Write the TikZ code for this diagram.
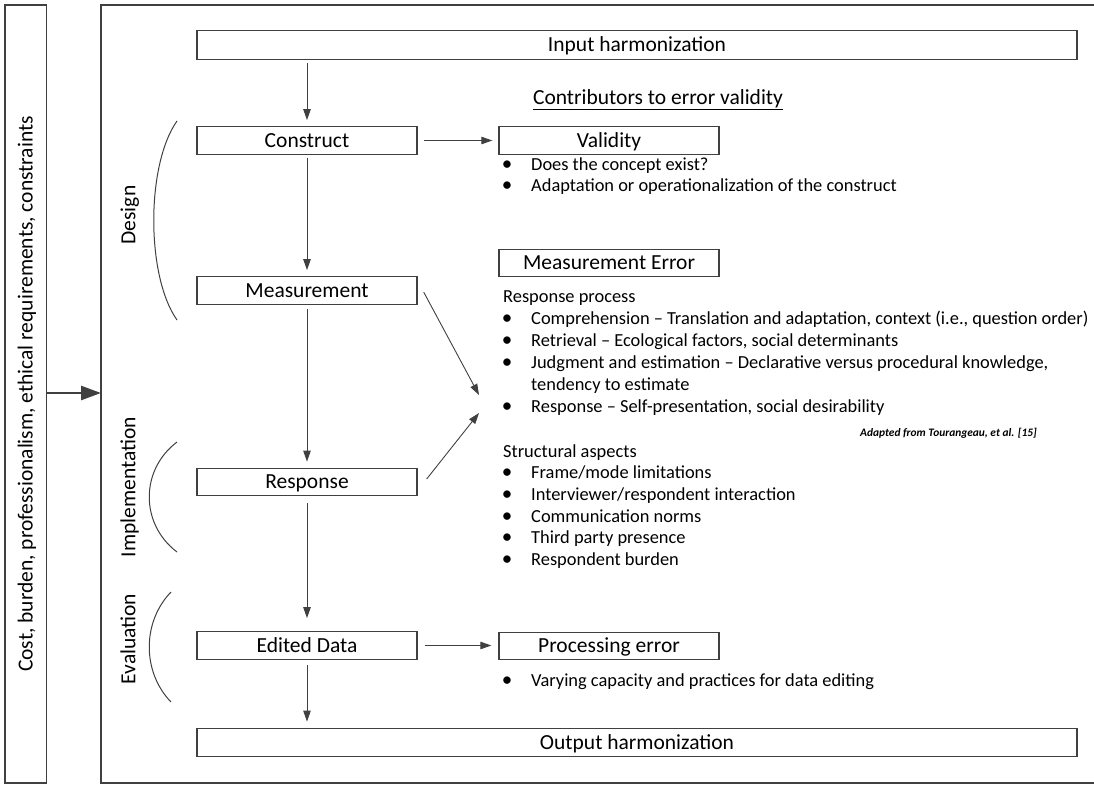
\documentclass[tikz,border=0pt]{standalone}
\usepackage{fontspec}
\setmainfont{Carlito}
\usetikzlibrary{arrows.meta,calc}
\definecolor{ln}{HTML}{404040}
\newcommand{\boxfont}{\fontsize{21.5}{25}\selectfont}
\newcommand{\bodyfont}{\fontsize{18.4}{21.5}\selectfont}
\tikzset{
  stage/.style={draw=ln, line width=1.3pt, minimum width=220pt, minimum height=27.5pt,
    inner sep=0pt, text height=13.8pt, text depth=0pt, font=\boxfont},
  wide/.style={stage, minimum width=880pt, minimum height=28.5pt},
  sidebar/.style={draw=ln, line width=1.3pt, minimum width=41.5pt, minimum height=778pt, inner sep=0pt},
  frame/.style={draw=ln, line width=1.3pt},
  flow/.style={draw=ln, line width=0.9pt, -{Triangle[length=11pt,width=7.5pt]}},
  feed/.style={draw=ln, line width=2.6pt, -{Triangle[length=20pt,width=14pt]}},
  phase/.style={rotate=90, inner sep=0pt, text height=13.8pt, text depth=0pt, font=\boxfont},
  bracket/.style={draw=ln, line width=1pt},
  line/.style={anchor=base west, inner sep=0pt, font=\bodyfont},
  bul/.style={anchor=base, inner sep=0pt, font=\fontsize{21}{21}\selectfont},
  heading/.style={anchor=base, inner sep=0pt, font=\boxfont},
  source/.style={anchor=base east, inner sep=0pt, font=\fontsize{11.4}{14}\selectfont\bfseries\itshape}
}
\begin{document}
\begin{tikzpicture}[x=1pt,y=-1pt]
\useasboundingbox (0,0) rectangle (1094,784);

% constraints bar on the left
\node[sidebar] (bar) at (25.75,394) {};
\node[phase] (barlabel) at (bar.center) {Cost, burden, professionalism, ethical requirements, constraints};

% outer frame (open to the right)
\draw[frame] (1094,5) -- (101,5) -- (101,783) -- (1094,783);
\coordinate (frameW) at (101,393);
\draw[feed] (bar.east |- frameW) -- (frameW);

% process chain
\node[wide]  (input)    at (637,45)    {Input harmonization};
\node[stage] (construct) at (307,140.5) {Construct};
\node[stage] (measure)  at (307,290.5) {Measurement};
\node[stage] (response) at (307,482)   {Response};
\node[stage] (edited)   at (307,645.5) {Edited Data};
\node[wide]  (output)   at (637,742.5) {Output harmonization};

\draw[flow, shorten <=3pt, shorten >=6pt] (input.south -| construct) -- (construct.north);
\draw[flow, shorten <=3pt, shorten >=6pt] (construct.south) -- (measure.north);
\draw[flow, shorten <=4pt, shorten >=6pt] (measure.south) -- (response.north);
\draw[flow, shorten <=7pt, shorten >=13pt] (response.south) -- (edited.north);
\draw[flow, shorten <=5pt, shorten >=6pt] (edited.south) -- (output.north -| edited);

% phase brackets
\draw[bracket] (177,121) .. controls (146,165) and (146,276) .. (177,320);
\draw[bracket] (177,442) .. controls (140,470) and (140,524) .. (177,552);
\draw[bracket] (171,592) .. controls (142,622) and (142,672) .. (171,702);
\node[phase] (design) at (128.5,215) {Design};
\node[phase] (impl)   at (128.5,487) {Implementation};
\node[phase] (eval)   at (128.5,639) {Evaluation};

% error sources
\node[heading] (contrib) at (658,104) {\underline{Contributors to error validity}};
\node[stage] (validity) at (609,140.5) {Validity};
\node[stage] (measerr)  at (609,263)   {Measurement Error};
\node[stage] (procerr)  at (609,646)   {Processing error};

\draw[flow, shorten <=6pt, shorten >=6pt] (construct.east) -- (validity.west);
\draw[flow, shorten <=7pt, shorten >=7pt] (edited.east) -- (edited.east -| procerr.west);

\coordinate (hubA) at (479,395);
\coordinate (hubB) at (479,413);
\draw[flow] ($(measure.east)+(6,1.5)$) -- (hubA);
\draw[flow] ($(response.east)+(9,-3)$) -- (hubB);

% validity notes
\foreach \y/\t [count=\i] in {170/{Does the concept exist?},
                             191/{Adaptation or operationalization of the construct}} {
  \node[bul]  (vb\i) at (507,\y) {•};
  \node[line] (vt\i) at (531,\y) {\t};
}

% measurement error notes
\node[line] (resp) at (503,302) {Response process};
\foreach \y/\t [count=\i] in {324.5/{Comprehension – Translation and adaptation, context (i.e., question order)},
                             346.5/{Retrieval – Ecological factors, social determinants},
                             368.5/{Judgment and estimation – Declarative versus procedural knowledge,},
                             412/{Response – Self-presentation, social desirability}} {
  \node[bul]  (rb\i) at (507,\y) {•};
  \node[line] (rt\i) at (531,\y) {\t};
}
\node[line] (rcont) at (531,390.5) {tendency to estimate};
\node[source] (cite) at (1037,436) {Adapted from Tourangeau, et al. [15]};

\node[line] (struct) at (503,457) {Structural aspects};
\foreach \y/\t [count=\i] in {478.7/{Frame/mode limitations},
                             500.4/{Interviewer/respondent interaction},
                             522.1/{Communication norms},
                             543.8/{Third party presence},
                             565.5/{Respondent burden}} {
  \node[bul]  (sb\i) at (507,\y) {•};
  \node[line] (st\i) at (531,\y) {\t};
}

% processing error notes
\node[bul]  (pb1) at (507,686) {•};
\node[line] (pt1) at (531,686) {Varying capacity and practices for data editing};
\end{tikzpicture}
\end{document}
